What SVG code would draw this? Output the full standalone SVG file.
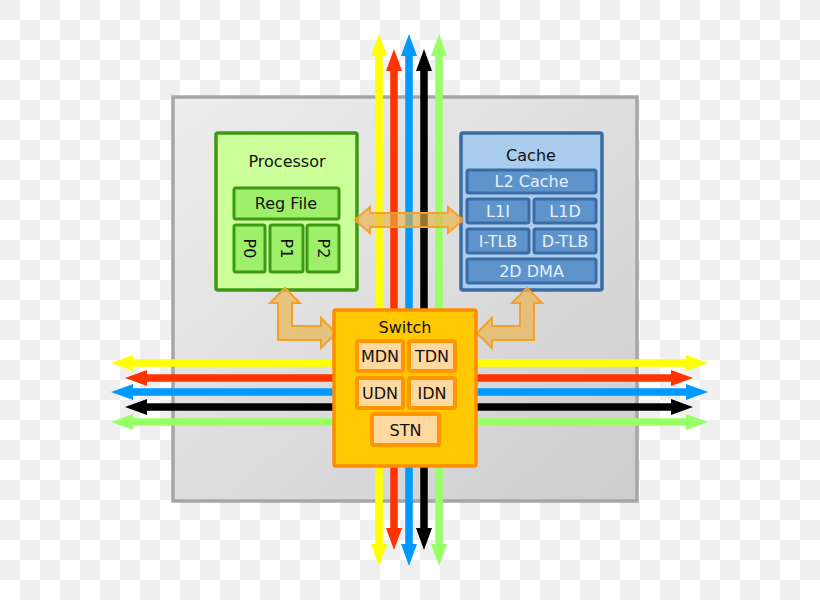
<svg xmlns="http://www.w3.org/2000/svg" width="820" height="600" viewBox="0 0 820 600">
<defs>
<pattern id="checker" width="40" height="40" patternUnits="userSpaceOnUse">
<rect width="40" height="40" fill="#ffffff"/>
<rect width="20" height="20" fill="#efefef"/>
<rect x="20" y="20" width="20" height="20" fill="#efefef"/>
</pattern>
<linearGradient id="tileGrad" x1="0" y1="0" x2="1" y2="1">
<stop offset="0" stop-color="#eeeeee"/>
<stop offset="1" stop-color="#cdcdcd"/>
</linearGradient>
<marker id="mY" viewBox="0 -8 22 16" markerWidth="22" markerHeight="16" refX="1" refY="0" orient="auto-start-reverse" markerUnits="userSpaceOnUse"><path d="M0,-8 L22,0 L0,8 z" fill="#ffff00"/></marker>
<marker id="mR" viewBox="0 -8 22 16" markerWidth="22" markerHeight="16" refX="1" refY="0" orient="auto-start-reverse" markerUnits="userSpaceOnUse"><path d="M0,-8 L22,0 L0,8 z" fill="#ff3300"/></marker>
<marker id="mB" viewBox="0 -8 22 16" markerWidth="22" markerHeight="16" refX="1" refY="0" orient="auto-start-reverse" markerUnits="userSpaceOnUse"><path d="M0,-8 L22,0 L0,8 z" fill="#0099ff"/></marker>
<marker id="mK" viewBox="0 -8 22 16" markerWidth="22" markerHeight="16" refX="1" refY="0" orient="auto-start-reverse" markerUnits="userSpaceOnUse"><path d="M0,-8 L22,0 L0,8 z" fill="#000000"/></marker>
<marker id="mG" viewBox="0 -8 22 16" markerWidth="22" markerHeight="16" refX="1" refY="0" orient="auto-start-reverse" markerUnits="userSpaceOnUse"><path d="M0,-8 L22,0 L0,8 z" fill="#99ff66"/></marker>
</defs>
<style>
text { font-family: "DejaVu Sans", "Liberation Sans", sans-serif; font-size: 16px; text-anchor: middle; }
.dark { fill: #111111; }
.light { fill: #e6f0ff; }
.net { fill: none; stroke-width: 7.5; }
.proc { fill: #ccff99; stroke: #3c9a12; stroke-width: 3.5; }
.procIn { fill: #9ef06a; stroke: #3c9a12; stroke-width: 3; }
.cache { fill: #aaccee; stroke: #3a6ca3; stroke-width: 3.5; }
.cacheIn { fill: #5f93cc; stroke: #3a6ca3; stroke-width: 3; }
.sw { fill: #ffc800; stroke: #ff8c00; stroke-width: 3.5; }
.swIn { fill: #ffd9a0; stroke: #ff9500; stroke-width: 4; }
.bus { fill: #e8b448; fill-opacity: 0.65; stroke: #f3a12a; stroke-width: 2; stroke-linejoin: miter; }
</style>
<rect width="820" height="600" fill="url(#checker)"/>
<g id="tile">
<rect x="173" y="97" width="464" height="404" fill="url(#tileGrad)" stroke="#a6a6a6" stroke-width="3.5"/>
</g>
<g id="connectors">
<line class="net" x1="379" y1="55" x2="379" y2="545" stroke="#ffff00" marker-start="url(#mY)" marker-end="url(#mY)"/>
<line class="net" x1="394" y1="70" x2="394" y2="529" stroke="#ff3300" marker-start="url(#mR)" marker-end="url(#mR)"/>
<line class="net" x1="409" y1="55" x2="409" y2="545" stroke="#0099ff" marker-start="url(#mB)" marker-end="url(#mB)"/>
<line class="net" x1="424" y1="70" x2="424" y2="529" stroke="#000000" marker-start="url(#mK)" marker-end="url(#mK)"/>
<line class="net" x1="439" y1="55" x2="439" y2="545" stroke="#99ff66" marker-start="url(#mG)" marker-end="url(#mG)"/>
<line class="net" x1="132" y1="363" x2="687" y2="363" stroke="#ffff00" marker-start="url(#mY)" marker-end="url(#mY)"/>
<line class="net" x1="146" y1="378" x2="672" y2="378" stroke="#ff3300" marker-start="url(#mR)" marker-end="url(#mR)"/>
<line class="net" x1="132" y1="392" x2="687" y2="392" stroke="#0099ff" marker-start="url(#mB)" marker-end="url(#mB)"/>
<line class="net" x1="146" y1="407" x2="672" y2="407" stroke="#000000" marker-start="url(#mK)" marker-end="url(#mK)"/>
<line class="net" x1="132" y1="422" x2="687" y2="422" stroke="#99ff66" marker-start="url(#mG)" marker-end="url(#mG)"/>
</g>
<g id="processor">
<rect class="proc" x="216" y="133" width="141" height="157" rx="2"/>
<text class="dark" x="287" y="167">Processor</text>
<rect class="procIn" x="234" y="188" width="105" height="31" rx="2"/>
<text class="dark" x="286" y="209">Reg File</text>
<rect class="procIn" x="234" y="225" width="31" height="47" rx="2"/>
<rect class="procIn" x="270" y="225" width="33" height="47" rx="2"/>
<rect class="procIn" x="307" y="225" width="32" height="47" rx="2"/>
<text class="dark" transform="translate(249.5,248.5) rotate(90)" x="0" y="5.5">P0</text>
<text class="dark" transform="translate(286.5,248.5) rotate(90)" x="0" y="5.5">P1</text>
<text class="dark" transform="translate(323,248.5) rotate(90)" x="0" y="5.5">P2</text>
</g>
<g id="cache">
<rect class="cache" x="461" y="133" width="141" height="157" rx="2"/>
<text class="dark" x="531" y="161">Cache</text>
<rect class="cacheIn" x="467" y="170" width="129" height="23" rx="2"/>
<text class="light" x="531.5" y="187">L2 Cache</text>
<rect class="cacheIn" x="467" y="199" width="62" height="24" rx="2"/>
<text class="light" x="498" y="217">L1I</text>
<rect class="cacheIn" x="534" y="199" width="62" height="24" rx="2"/>
<text class="light" x="565" y="217">L1D</text>
<rect class="cacheIn" x="467" y="229" width="62" height="24" rx="2"/>
<text class="light" x="498" y="247">I-TLB</text>
<rect class="cacheIn" x="534" y="229" width="62" height="24" rx="2"/>
<text class="light" x="565" y="247">D-TLB</text>
<rect class="cacheIn" x="467" y="259" width="129" height="24" rx="2"/>
<text class="light" x="531.5" y="277">2D DMA</text>
</g>
<g id="buses">
<polygon class="bus" points="355,220 370,207 370,213 448,213 448,207 463,220 448,233 448,227 370,227 370,233"/>
<polygon class="bus" points="285,288 300,303 292,303 292,326 321,326 321,318 336,333 321,348 321,340 278,340 278,303 270,303"/>
<polygon class="bus" points="527,288 542,303 534,303 534,340 492,340 492,348 477,333 492,318 492,326 520,326 520,303 512,303"/>
</g>
<g id="switch">
<rect class="sw" x="334" y="310" width="142" height="156" rx="2"/>
<text class="dark" x="405" y="333">Switch</text>
<rect class="swIn" x="357" y="341" width="46" height="30" rx="2"/>
<text class="dark" x="380" y="362">MDN</text>
<rect class="swIn" x="409" y="341" width="46" height="30" rx="2"/>
<text class="dark" x="432" y="362">TDN</text>
<rect class="swIn" x="357" y="378" width="46" height="30" rx="2"/>
<text class="dark" x="380" y="399">UDN</text>
<rect class="swIn" x="409" y="378" width="46" height="30" rx="2"/>
<text class="dark" x="432" y="399">IDN</text>
<rect class="swIn" x="372" y="414" width="67" height="31" rx="2"/>
<text class="dark" x="405.5" y="436">STN</text>
</g>
</svg>
